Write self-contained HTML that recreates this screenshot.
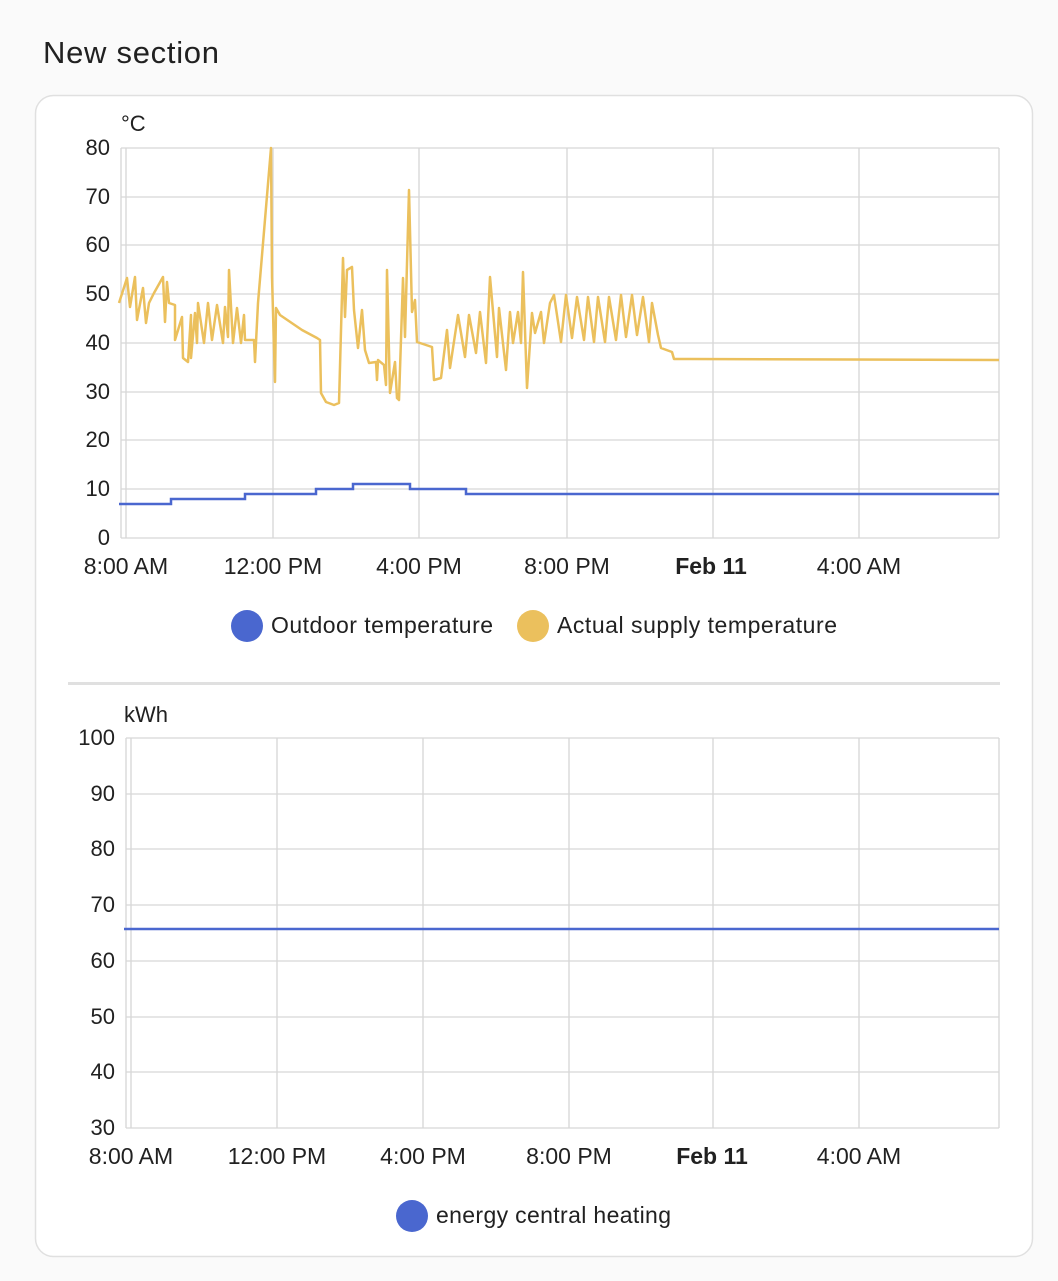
<!DOCTYPE html>
<html><head><style>
body{margin:0;background:#fafafa;width:1058px;height:1276px;overflow:hidden;font-family:"Liberation Sans",sans-serif}
</style></head><body>
<svg width="1058" height="1276" xmlns="http://www.w3.org/2000/svg" font-family="Liberation Sans, sans-serif">
<text x="43" y="63" font-size="31" fill="#212121" textLength="176">New section</text>
<rect x="35.5" y="95.5" width="997" height="1161" rx="18" fill="#fff" stroke="#e0e0e0" stroke-width="1.5"/>
<g stroke="#d6d6d6" stroke-width="1.3">
<line x1="121" y1="148" x2="999" y2="148"/><line x1="121" y1="197" x2="999" y2="197"/><line x1="121" y1="245" x2="999" y2="245"/><line x1="121" y1="294" x2="999" y2="294"/><line x1="121" y1="343" x2="999" y2="343"/><line x1="121" y1="392" x2="999" y2="392"/><line x1="121" y1="440" x2="999" y2="440"/><line x1="121" y1="489" x2="999" y2="489"/><line x1="121" y1="538" x2="999" y2="538"/>
<line x1="121" y1="148" x2="121" y2="538"/><line x1="126" y1="148" x2="126" y2="538"/><line x1="273" y1="148" x2="273" y2="538"/><line x1="419" y1="148" x2="419" y2="538"/><line x1="567" y1="148" x2="567" y2="538"/><line x1="713" y1="148" x2="713" y2="538"/><line x1="859" y1="148" x2="859" y2="538"/><line x1="999" y1="148" x2="999" y2="538"/>
</g>
<g font-size="22" fill="#212121" text-anchor="end">
<text x="110" y="155">80</text><text x="110" y="204">70</text><text x="110" y="252">60</text><text x="110" y="301">50</text><text x="110" y="350">40</text><text x="110" y="399">30</text><text x="110" y="447">20</text><text x="110" y="496">10</text><text x="110" y="545">0</text>
</g>
<text x="121" y="131" font-size="22" fill="#212121">°C</text>
<g font-size="23" fill="#212121" text-anchor="middle">
<text x="126" y="574">8:00 AM</text><text x="273" y="574">12:00 PM</text><text x="419" y="574">4:00 PM</text><text x="567" y="574">8:00 PM</text><text x="711" y="574" font-weight="bold">Feb 11</text><text x="859" y="574">4:00 AM</text>
</g>
<polyline fill="none" stroke="#ebc05d" stroke-width="2.5" stroke-linejoin="round" points="119,303 127,278 130,307 135,277 137,320 143,288 146,323 149,303 154,293 163,277 165,322 167,282 169,303 175,305 175,340 182,317 183,358 188,362 191,315 191,358 195,313 197,343 198,303 204,343 208,303 212,340 217,305 223,343 225,307 228,337 229,270 233,343 237,308 241,343 244,315 245,340 254,340 255,362 258,303 271,148 272,277 275,382 276,308 280,315 302,330 317,338 320,340 321,393 326,402 334,405 339,403 343,258 345,317 347,270 352,267 354,310 358,348 362,310 365,350 369,363 376,362 377,380 378,360 384,365 386,385 387,270 390,393 395,362 397,398 399,400 403,278 405,337 409,190 412,312 415,300 417,342 432,347 434,380 441,378 447,330 450,368 458,315 465,357 469,315 476,353 480,312 486,363 490,277 497,357 499,308 506,370 510,312 513,343 518,312 521,343 523,272 527,388 532,313 535,333 541,312 544,343 550,303 554,295 561,342 566,295 572,338 577,297 584,340 588,297 594,342 598,297 605,342 609,297 616,340 621,295 626,337 632,295 637,335 643,297 649,342 652,303 658,335 661,348 672,352 674,359 690,359 999,360"/>
<polyline fill="none" stroke="#4a67cf" stroke-width="2.5" points="119,504 171,504 171,499 245,499 245,494 316,494 316,489 353,489 353,484 410,484 410,489 466,489 466,494 999,494"/>
<circle cx="247" cy="626" r="16" fill="#4a67cf"/><text x="271" y="633" font-size="23" fill="#212121" textLength="222">Outdoor temperature</text>
<circle cx="533" cy="626" r="16" fill="#ebc05d"/><text x="557" y="633" font-size="23" fill="#212121" textLength="280">Actual supply temperature</text>
<rect x="68" y="682" width="932" height="3" fill="#e0e0e0"/>
<g stroke="#d6d6d6" stroke-width="1.3">
<line x1="126" y1="738" x2="999" y2="738"/><line x1="126" y1="794" x2="999" y2="794"/><line x1="126" y1="849" x2="999" y2="849"/><line x1="126" y1="905" x2="999" y2="905"/><line x1="126" y1="961" x2="999" y2="961"/><line x1="126" y1="1017" x2="999" y2="1017"/><line x1="126" y1="1072" x2="999" y2="1072"/><line x1="126" y1="1128" x2="999" y2="1128"/>
<line x1="126" y1="738" x2="126" y2="1128"/><line x1="131" y1="738" x2="131" y2="1128"/><line x1="277" y1="738" x2="277" y2="1128"/><line x1="423" y1="738" x2="423" y2="1128"/><line x1="569" y1="738" x2="569" y2="1128"/><line x1="713" y1="738" x2="713" y2="1128"/><line x1="859" y1="738" x2="859" y2="1128"/><line x1="999" y1="738" x2="999" y2="1128"/>
</g>
<g font-size="22" fill="#212121" text-anchor="end">
<text x="115" y="745">100</text><text x="115" y="801">90</text><text x="115" y="856">80</text><text x="115" y="912">70</text><text x="115" y="968">60</text><text x="115" y="1024">50</text><text x="115" y="1079">40</text><text x="115" y="1135">30</text>
</g>
<text x="124" y="722" font-size="22" fill="#212121">kWh</text>
<g font-size="23" fill="#212121" text-anchor="middle">
<text x="131" y="1164">8:00 AM</text><text x="277" y="1164">12:00 PM</text><text x="423" y="1164">4:00 PM</text><text x="569" y="1164">8:00 PM</text><text x="712" y="1164" font-weight="bold">Feb 11</text><text x="859" y="1164">4:00 AM</text>
</g>
<line x1="124" y1="929" x2="999" y2="929" stroke="#4a67cf" stroke-width="2.5"/>
<circle cx="412" cy="1216" r="16" fill="#4a67cf"/><text x="436" y="1223" font-size="23" fill="#212121" textLength="235">energy central heating</text>
</svg>
</body></html>
